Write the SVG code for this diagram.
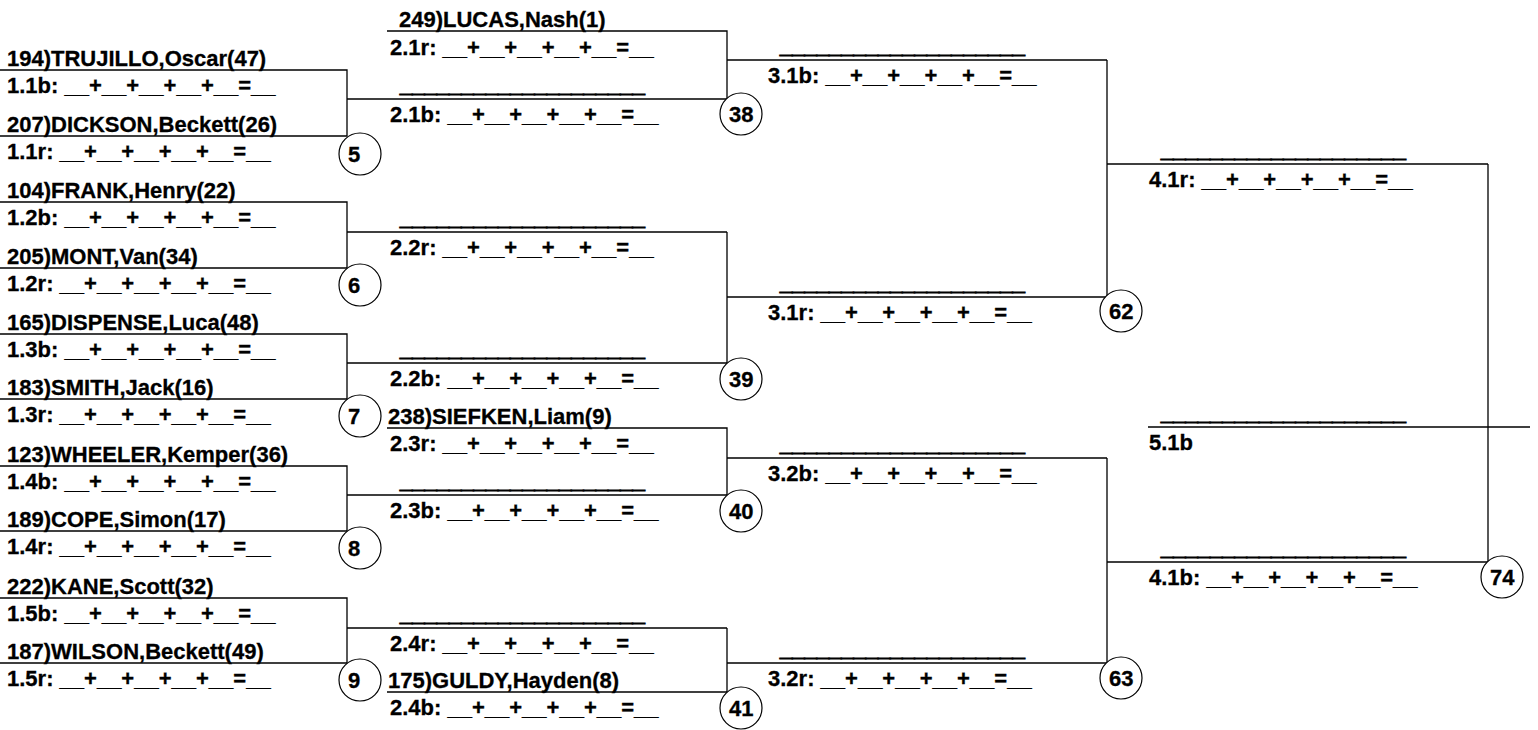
<svg xmlns="http://www.w3.org/2000/svg" width="1538" height="730" viewBox="0 0 1538 730">
<style>
text{font-family:"Liberation Sans",Arial,sans-serif;font-weight:bold;font-size:22px;fill:#000;stroke:#000;stroke-width:0.3}
text.u{stroke-width:1.4}
.ln{stroke:#000;stroke-width:1.3;fill:none}
.c{stroke:#000;stroke-width:1.2;fill:#fff}
</style>
<rect width="1538" height="730" fill="#fff"/>
<g id="connectors" class="ln">
<path d="M0 70H347V136H0M347 99H727"/>
<path d="M0 202H347V268H0M347 232H727"/>
<path d="M0 334H347V399H0M347 363H727"/>
<path d="M0 466H347V531H0M347 495H727"/>
<path d="M0 598H347V663H0M347 628H727"/>
<path d="M387 31H727V99M727 60H1107"/>
<path d="M727 232V363M727 297H1107"/>
<path d="M387 428H727V495M727 458H1107"/>
<path d="M727 628V692H387M727 663H1107"/>
<path d="M1107 60V297M1107 164H1488"/>
<path d="M1107 458V663M1107 562H1488"/>
<path d="M1488 164V562M1148 427H1530"/>
</g>
<g id="m1-1"><text x="7" y="66">194)TRUJILLO,Oscar(47)</text><text x="7" y="93">1.1b: __+__+__+__+__=__</text><text x="7" y="132">207)DICKSON,Beckett(26)</text><text x="7" y="159">1.1r: __+__+__+__+__=__</text></g>
<g id="m1-2"><text x="7" y="198">104)FRANK,Henry(22)</text><text x="7" y="225">1.2b: __+__+__+__+__=__</text><text x="7" y="264">205)MONT,Van(34)</text><text x="7" y="291">1.2r: __+__+__+__+__=__</text></g>
<g id="m1-3"><text x="7" y="330">165)DISPENSE,Luca(48)</text><text x="7" y="357">1.3b: __+__+__+__+__=__</text><text x="7" y="395">183)SMITH,Jack(16)</text><text x="7" y="422">1.3r: __+__+__+__+__=__</text></g>
<g id="m1-4"><text x="7" y="462">123)WHEELER,Kemper(36)</text><text x="7" y="489">1.4b: __+__+__+__+__=__</text><text x="7" y="527">189)COPE,Simon(17)</text><text x="7" y="554">1.4r: __+__+__+__+__=__</text></g>
<g id="m1-5"><text x="7" y="594">222)KANE,Scott(32)</text><text x="7" y="621">1.5b: __+__+__+__+__=__</text><text x="7" y="659">187)WILSON,Beckett(49)</text><text x="7" y="686">1.5r: __+__+__+__+__=__</text></g>
<g id="m2-1"><text x="399" y="27">249)LUCAS,Nash(1)</text><text x="390" y="55">2.1r: __+__+__+__+__=__</text><text class="u" x="400" y="92">____________________</text><text x="390" y="122">2.1b: __+__+__+__+__=__</text></g>
<g id="m2-2"><text class="u" x="400" y="225">____________________</text><text x="390" y="255">2.2r: __+__+__+__+__=__</text><text class="u" x="400" y="356">____________________</text><text x="390" y="386">2.2b: __+__+__+__+__=__</text></g>
<g id="m2-3"><text x="388" y="424">238)SIEFKEN,Liam(9)</text><text x="390" y="451">2.3r: __+__+__+__+__=__</text><text class="u" x="400" y="488">____________________</text><text x="390" y="518">2.3b: __+__+__+__+__=__</text></g>
<g id="m2-4"><text class="u" x="400" y="621">____________________</text><text x="390" y="651">2.4r: __+__+__+__+__=__</text><text x="388" y="688">175)GULDY,Hayden(8)</text><text x="390" y="715">2.4b: __+__+__+__+__=__</text></g>
<g id="m3-1"><text class="u" x="780" y="53">____________________</text><text x="768" y="83">3.1b: __+__+__+__+__=__</text><text class="u" x="780" y="290">____________________</text><text x="768" y="320">3.1r: __+__+__+__+__=__</text></g>
<g id="m3-2"><text class="u" x="780" y="451">____________________</text><text x="768" y="481">3.2b: __+__+__+__+__=__</text><text class="u" x="780" y="656">____________________</text><text x="768" y="686">3.2r: __+__+__+__+__=__</text></g>
<g id="m4-1"><text class="u" x="1161" y="157">____________________</text><text x="1149" y="187">4.1r: __+__+__+__+__=__</text><text class="u" x="1161" y="555">____________________</text><text x="1149" y="585">4.1b: __+__+__+__+__=__</text></g>
<g id="m5-1"><text class="u" x="1161" y="420">____________________</text><text x="1149" y="450">5.1b</text></g>
<g id="c5"><circle class="c" cx="360" cy="154" r="21"/><text x="348" y="162">5</text></g>
<g id="c6"><circle class="c" cx="360" cy="285" r="21"/><text x="348" y="293">6</text></g>
<g id="c7"><circle class="c" cx="360" cy="416" r="21"/><text x="348" y="424">7</text></g>
<g id="c8"><circle class="c" cx="360" cy="548" r="21"/><text x="348" y="556">8</text></g>
<g id="c9"><circle class="c" cx="360" cy="680" r="21"/><text x="348" y="688">9</text></g>
<g id="c38"><circle class="c" cx="741" cy="114" r="21"/><text x="729" y="122">38</text></g>
<g id="c39"><circle class="c" cx="741" cy="379" r="21"/><text x="729" y="387">39</text></g>
<g id="c40"><circle class="c" cx="741" cy="511" r="21"/><text x="729" y="519">40</text></g>
<g id="c41"><circle class="c" cx="741" cy="708" r="21"/><text x="729" y="716">41</text></g>
<g id="c62"><circle class="c" cx="1121" cy="311" r="21"/><text x="1109" y="319">62</text></g>
<g id="c63"><circle class="c" cx="1121" cy="678" r="21"/><text x="1109" y="686">63</text></g>
<g id="c74"><circle class="c" cx="1502" cy="577" r="21"/><text x="1490" y="585">74</text></g>
</svg>
